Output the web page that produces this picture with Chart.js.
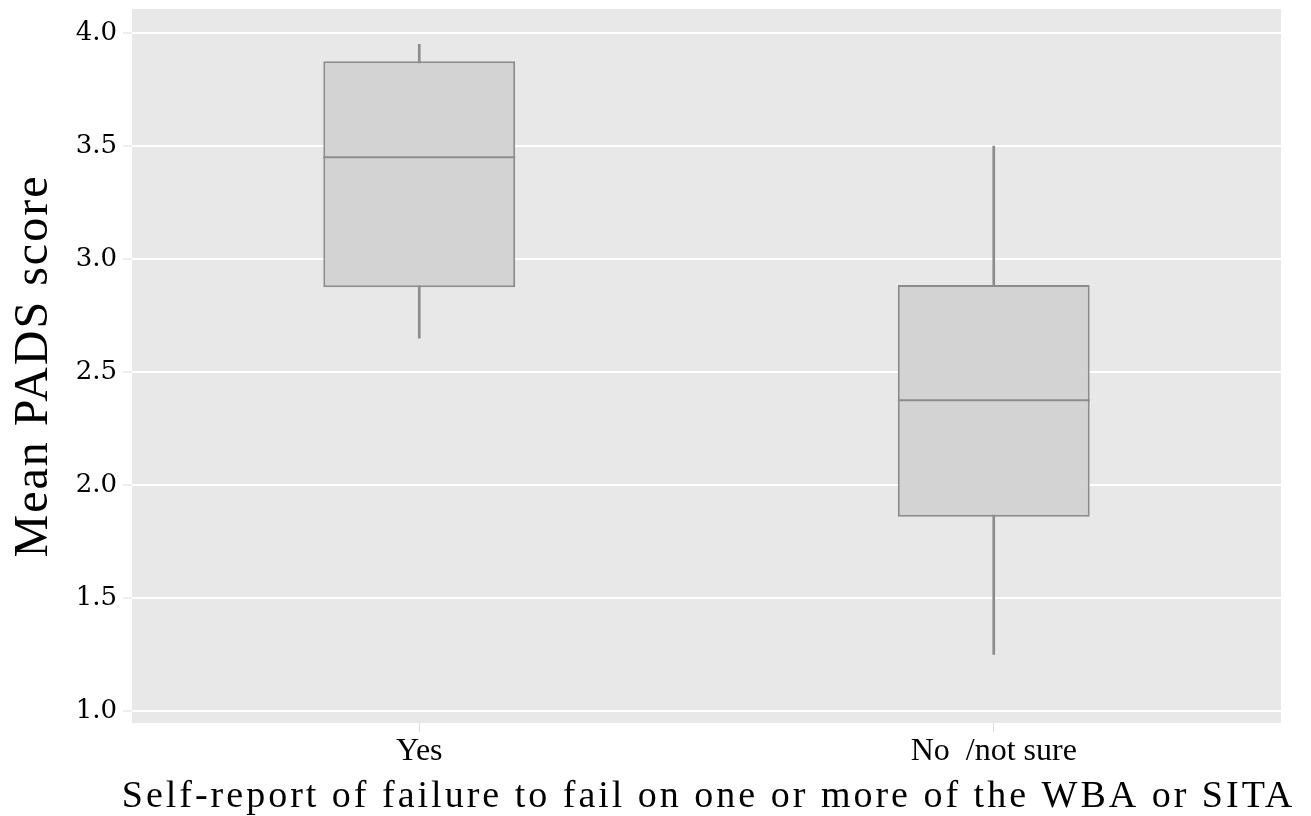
<!DOCTYPE html>
<html lang="en">
<head>
    <meta charset="UTF-8">
    <title>Mean PADS score boxplot</title>
    <script src="https://cdn.jsdelivr.net/npm/chart.js"></script>
    <style>
        body { margin: 0; background: #fff; }
        #boxChart { display: block; }
    </style>
</head>
<body>

<canvas id="boxChart" width="1311" height="816"></canvas>

<script>
  // data
  var categories = ['Yes', 'No  /not sure'];
  var whiskerLow  = [2.65, 1.25];
  var q1          = [2.875, 1.86];
  var median      = [3.45, 2.375];
  var q3          = [3.875, 2.885];
  var whiskerHigh = [3.95, 3.5];
  var yTicks = [1.0, 1.5, 2.0, 2.5, 3.0, 3.5, 4.0];

  var xTitle = 'Self-report of failure to fail on one or more of the WBA or SITA';
  var yTitle = 'Mean PADS score';

  var boxLine = '#8c8c8c';
  var boxFill = '#d3d3d3';

  // grey panel behind the grid
  var panelBg = {
    id: 'panelBg',
    beforeDraw: function(chart) {
      var a = chart.chartArea, ctx = chart.ctx;
      ctx.save();
      ctx.fillStyle = '#e8e8e8';
      ctx.fillRect(a.left, a.top, a.right - a.left, a.bottom - a.top);
      ctx.restore();
    }
  };

  // median line across each box
  var medianLines = {
    id: 'medianLines',
    afterDatasetsDraw: function(chart) {
      var ctx = chart.ctx;
      var meta = chart.getDatasetMeta(1);
      var y = chart.scales.y;
      ctx.save();
      ctx.strokeStyle = boxLine;
      ctx.lineWidth = 2;
      meta.data.forEach(function(bar, i) {
        var py = y.getPixelForValue(median[i]);
        ctx.beginPath();
        ctx.moveTo(bar.x - bar.width / 2, py);
        ctx.lineTo(bar.x + bar.width / 2, py);
        ctx.stroke();
      });
      ctx.restore();
    }
  };

  // axis titles with letter spacing
  var axisTitles = {
    id: 'axisTitles',
    afterDraw: function(chart) {
      var a = chart.chartArea, ctx = chart.ctx;
      ctx.save();
      ctx.fillStyle = '#000';
      ctx.textAlign = 'center';
      ctx.textBaseline = 'alphabetic';
      ctx.font = '38px "Liberation Serif"';
      ctx.letterSpacing = '3px';
      ctx.fillText(xTitle, (a.left + a.right) / 2 + 2, 807);

      ctx.font = '48px "Liberation Serif"';
      ctx.letterSpacing = '2px';
      ctx.translate(47, (a.top + a.bottom) / 2);
      ctx.rotate(-Math.PI / 2);
      ctx.fillText(yTitle, 0, 0);
      ctx.restore();
    }
  };

  var ctx = document.getElementById('boxChart').getContext('2d');
  var boxChart = new Chart(ctx, {
    type: 'bar',
    data: {
      labels: categories,
      datasets: [{
        label: 'whiskers',
        data: categories.map(function(c, i) { return [whiskerLow[i], whiskerHigh[i]]; }),
        backgroundColor: boxLine,
        borderWidth: 0,
        barThickness: 2,
        grouped: false,
        order: 2
      }, {
        label: 'box',
        data: categories.map(function(c, i) { return [q1[i], q3[i]]; }),
        backgroundColor: boxFill,
        borderColor: boxLine,
        borderWidth: 2,
        borderSkipped: false,
        categoryPercentage: 1.0,
        barPercentage: 0.334,
        grouped: false,
        order: 1
      }]
    },
    options: {
      responsive: false,
      animation: false,
      layout: { padding: { top: 9, right: 30, left: 0, bottom: 0 } },
      plugins: {
        legend: { display: false },
        tooltip: { enabled: false }
      },
      scales: {
        x: {
          offset: true,
          grid: {
            offset: false,
            drawOnChartArea: false,
            tickLength: 9,
            tickColor: '#dcdcdc',
            tickWidth: 1
          },
          border: { display: false },
          ticks: {
            color: '#000',
            padding: 0,
            font: { family: '"Liberation Serif"', size: 32 }
          },
          afterFit: function(scale) {
            scale.height = 93;
            scale.paddingLeft = 0;
            scale.paddingRight = 0;
          }
        },
        y: {
          min: 0.947,
          max: 4.106,
          afterBuildTicks: function(scale) {
            scale.ticks = yTicks.map(function(v) { return { value: v }; });
          },
          grid: {
            color: '#ffffff',
            lineWidth: 2,
            tickLength: 9,
            tickColor: '#dcdcdc',
            tickWidth: 1
          },
          border: { display: false },
          ticks: {
            color: '#000',
            padding: 6,
            font: { family: '"DejaVu Serif"', size: 26 },
            callback: function(v) { return Number(v).toFixed(1); }
          },
          afterFit: function(scale) {
            scale.width = 132;
            scale.paddingTop = 0;
            scale.paddingBottom = 0;
          }
        }
      }
    },
    plugins: [panelBg, medianLines, axisTitles]
  });
</script>

</body>
</html>
